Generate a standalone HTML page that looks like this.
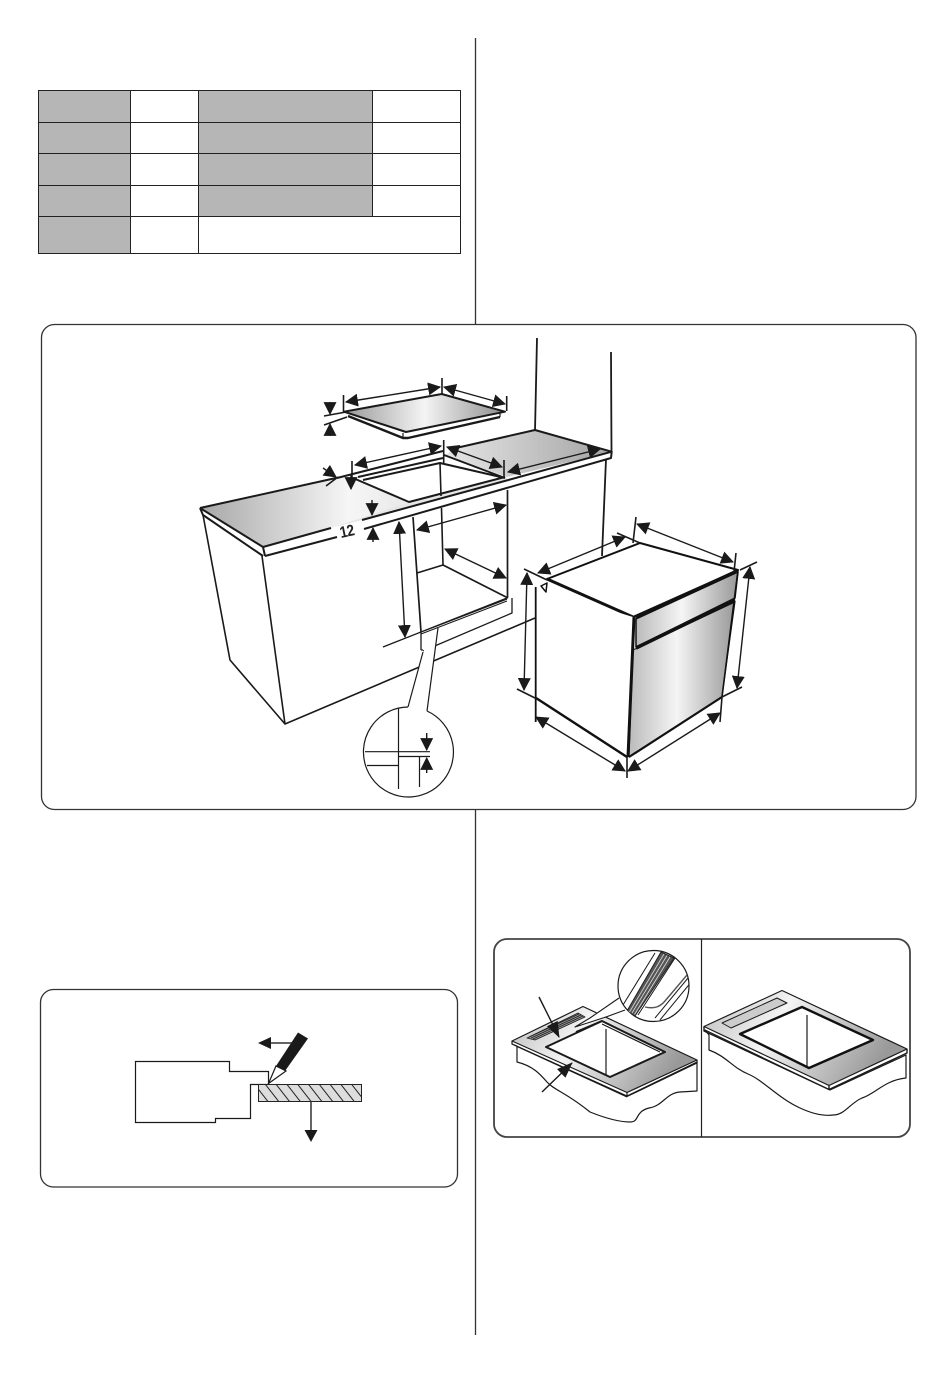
<!DOCTYPE html>
<html><head><meta charset="utf-8"><style>
html,body{margin:0;padding:0;background:#fff;width:950px;height:1374px;overflow:hidden}
svg{display:block}
text{font-family:"Liberation Sans",sans-serif}
</style></head><body>
<svg width="950" height="1374" viewBox="0 0 950 1374" xmlns="http://www.w3.org/2000/svg">
<defs>
<marker id="a" viewBox="0 0 12 12" refX="11" refY="6" markerWidth="13" markerHeight="13" markerUnits="userSpaceOnUse" orient="auto-start-reverse"><path d="M0 0L12 6L0 12z" fill="#1a1a1a"/></marker>
<marker id="b" viewBox="0 0 16 12" refX="15" refY="6" markerWidth="16" markerHeight="14" markerUnits="userSpaceOnUse" orient="auto-start-reverse"><path d="M0 0L16 6L0 12z" fill="#1a1a1a"/></marker>
<linearGradient id="g" x1="0" y1="0" x2="1" y2="0"><stop offset="0" stop-color="#999"/><stop offset=".5" stop-color="#f4f4f4"/><stop offset="1" stop-color="#8e8e8e"/></linearGradient>
<linearGradient id="cl" gradientUnits="userSpaceOnUse" x1="205" y1="0" x2="410" y2="0"><stop offset="0" stop-color="#aaa"/><stop offset=".7" stop-color="#f6f6f6"/><stop offset="1" stop-color="#e8e8e8"/></linearGradient>
<linearGradient id="cr" gradientUnits="userSpaceOnUse" x1="450" y1="0" x2="610" y2="0"><stop offset="0" stop-color="#e4e4e4"/><stop offset="1" stop-color="#a4a4a4"/></linearGradient>
<linearGradient id="g2" x1="0" y1="0" x2="1" y2="0"><stop offset="0" stop-color="#bbb"/><stop offset=".45" stop-color="#f5f5f5"/><stop offset="1" stop-color="#999"/></linearGradient>
<linearGradient id="g3" x1="0" y1="0" x2="1" y2="0.3"><stop offset="0" stop-color="#bbb"/><stop offset=".42" stop-color="#f4f4f4"/><stop offset="1" stop-color="#999"/></linearGradient>
<pattern id="h" width="8.500" height="9" patternUnits="userSpaceOnUse" patternTransform="rotate(-38)"><rect width="9" height="9" fill="#ddd"/><line x1="0" y1="0" x2="0" y2="9" stroke="#222" stroke-width="2"/></pattern>
<clipPath id="mag"><circle cx="653.500" cy="986" r="35.500"/></clipPath>
</defs>
<rect width="950" height="1374" fill="#fff"/>

<!-- centre rule -->
<path d="M475.500 38V324M475.500 809V1335" stroke="#333" stroke-width="1.300" fill="none"/>

<!-- table -->
<g fill="#b6b6b6">
<rect x="38" y="90" width="92" height="163"/>
<rect x="198" y="90" width="174" height="126"/>
</g>
<path d="M38.500 90.500H460.500V253.500H38.500ZM38 122.500H460M38 153.500H460M38 185.500H460M38 216.500H460M130.500 90V253M198.500 90V253M372.500 90V216" fill="none" stroke="#222" stroke-width="1"/>

<!-- panels -->
<rect x="41.500" y="324.500" width="874.500" height="485" rx="13" fill="#fff" stroke="#333" stroke-width="1.300"/>
<rect x="40.500" y="989.500" width="417" height="197.500" rx="13" fill="#fff" stroke="#333" stroke-width="1.300"/>
<rect x="494" y="939" width="416" height="198" rx="13" fill="#fff" stroke="#444" stroke-width="1.800"/>
<path d="M701.500 939V1137" stroke="#222" stroke-width="1.200"/>

<!-- ===== main diagram ===== -->
<g fill="none" stroke="#1a1a1a" stroke-width="1.600" stroke-linejoin="round">
<!-- walls -->
<path d="M537 338L535 431M611 352L611.500 451M606 459L602 556" stroke-width="1.800"/>
<!-- worktop -->
<path d="M200 508L337 478L353 478L409 502L331 528L263 547Z" fill="url(#cl)" stroke="none"/>
<path d="M409 502L505 477L510 481L362 520L331 528Z" fill="#e6e6e6" stroke="none"/>
<path d="M456 448L535 430L611.700 451.700L507 477L445 455Z" fill="url(#cr)" stroke="none"/>
<!-- worktop lines -->
<path d="M200 508L336 478M337 478L443 451M456 448L535 430L611.700 451.700M353 478L409 502L505 477M362 520L611.700 451.700L611 458L364 529M200 508L203 515L263 556M200 508L263 547L265 556M263 547L331 528M265 556L337 537M363 480L440 463L505 478M358 477L443 458M444 455L505 478" stroke-width="2"/>
<path d="M440 463L441 496M441.500 508L443 565M203 515L230 660L285 724L535 618M262 556L285 724" stroke-width="1.600"/>
<!-- oven opening -->
<path d="M413 517L421 632M443 565L417 573M443 565L508 598M507.500 490V598" stroke-width="1.700"/>
<path d="M383 647L507 598M421 632L507 599M421 632V650M423 651L512 613V598M421 650H423" stroke-width="1.300"/>
<path d="M421 634L507 601" stroke-width="1"/>
<!-- callout -->
<path d="M424 650L408 707L427 711L438 628Z" fill="#fff" stroke="none"/>
<path d="M423 652L408 707M438 628L427 711" stroke-width="1.200"/>
<path d="M408 707A45 45 0 1 0 427 711" stroke-width="1.200" fill="#fff"/>
<path d="M398.500 708V789M365 751.700H430M367 765.500H398M399 756.500H430M419.500 757V787" stroke-width="1.200"/>
<!-- hob -->
<path d="M348 416L403 438H408L500 417L505 412L344 412Z" fill="#fff" stroke="none"/>
<path d="M348 416L403 438H408L500 417" stroke-width="2.400"/>
<path d="M344 411.700L441.700 394L505 411.700L406 432Z" fill="url(#g)" stroke="#1a1a1a" stroke-width="2"/>
<path d="M403 433V438M500 413V417" stroke-width="1.200"/>
<!-- oven -->
<path d="M547 579L640 543L738 570L633 617Z" fill="#fff" stroke="#111" stroke-width="2"/>
<path d="M547 579L633 617" stroke="#111" stroke-width="3"/>
<path d="M536 587V698L627 757L633 617" fill="#fff" stroke="none"/>
<path d="M535.700 587V722" stroke="#111" stroke-width="1.800"/>
<path d="M536 698L627 757" stroke="#111" stroke-width="2.500"/>
<path d="M636 619L738 572L735 598L636 647Z" fill="url(#g2)" stroke="#111" stroke-width="1.500"/>
<path d="M633 650L735 602L722 697L629 757Z" fill="url(#g2)" stroke="#111" stroke-width="1"/>
<path d="M636 648L735 600" stroke="#111" stroke-width="3.500"/>
<path d="M636 618L738 570" stroke="#111" stroke-width="2.500"/>
<path d="M634 617L628 757" stroke="#111" stroke-width="3"/>
<path d="M629 757L722 697" stroke="#111" stroke-width="2.200"/>
<path d="M738 570L722 697" stroke="#111" stroke-width="1.600"/>
<path d="M541 586L547 583L546 592Z" stroke="#111" stroke-width="1.500" fill="#fff"/>
<!-- ticks -->
<path d="M343.500 395V412M442 378V394M506.700 396V411M324 416L346 412M324 425L347 417M352 461V480M443.700 440V463M504 460V477M326 486L338 477M524 569L547 580M617 533L640 543M636 517L633 543M736 553L734 572M740 570L757 562M722 697L742 687M517 689L537 699M722 697L720 722M627 757V778" stroke-width="1.600"/>
</g>

<!-- dimension arrows -->
<g fill="none" stroke="#1a1a1a" stroke-width="1.400">
<path d="M346 402L440 387" marker-start="url(#a)" marker-end="url(#a)"/>
<path d="M444 387L505 404" marker-start="url(#a)" marker-end="url(#a)"/>
<path d="M355 465L441 446" marker-start="url(#a)" marker-end="url(#a)"/>
<path d="M447 447L502 467" marker-start="url(#a)" marker-end="url(#a)"/>
<path d="M508 472L600 449" marker-start="url(#a)" marker-end="url(#a)"/>
<path d="M399 522L405 637" marker-start="url(#a)" marker-end="url(#a)"/>
<path d="M417 530L506 505" marker-start="url(#a)" marker-end="url(#a)"/>
<path d="M445 549L506 578" marker-start="url(#a)" marker-end="url(#a)"/>
<path d="M538 573L625 537" marker-start="url(#a)" marker-end="url(#a)"/>
<path d="M637 524L733 562" marker-start="url(#a)" marker-end="url(#a)"/>
<path d="M750 567L737 688" marker-start="url(#a)" marker-end="url(#a)"/>
<path d="M527 573L524 690" marker-start="url(#a)" marker-end="url(#a)"/>
<path d="M536 717L625 771" marker-start="url(#a)" marker-end="url(#a)"/>
<path d="M628 771L720 713" marker-start="url(#a)" marker-end="url(#a)"/>
<path d="M330 402V414" marker-end="url(#a)"/>
<path d="M330 436V424" marker-end="url(#a)"/>
<path d="M372 500V515" marker-end="url(#a)"/>
<path d="M373 542V528" marker-end="url(#a)"/>
<path d="M323 468L336 477" marker-end="url(#a)"/>
<path d="M351 474V489" marker-end="url(#a)"/>
<path d="M426.700 733V750" marker-end="url(#a)"/>
<path d="M426.700 773V758" marker-end="url(#a)"/>
</g>
<text x="0" y="0" transform="translate(341 538) rotate(-12) scale(.85 1)" font-size="16" font-weight="bold" letter-spacing="-.5" fill="#222">12</text>

<!-- ===== pencil diagram ===== -->
<path d="M268.500 1084V1071.500H229.500V1061.500H135.500V1122.500H215.500V1118.500H250.500V1084.500H268" fill="none" stroke="#1a1a1a" stroke-width="1.200"/>
<rect x="258.500" y="1084.500" width="103" height="17" fill="url(#h)" stroke="#222" stroke-width="1"/>
<path d="M311 1101V1130" stroke="#333" stroke-width="1.500"/>
<path d="M304.500 1130H317.500L311 1142Z" fill="#1a1a1a"/>
<path d="M270 1043H292" stroke="#333" stroke-width="1.500"/>
<path d="M258 1043L271 1037V1049Z" fill="#1a1a1a"/>
<path d="M298 1032.500L308 1038.500L285 1071L276 1066Z" fill="#1a1a1a"/>
<path d="M268.500 1083.500L276 1066L286 1071Z" fill="#fff" stroke="#1a1a1a" stroke-width="1.200"/>

<!-- ===== left seal diagram ===== -->
<g stroke="#1a1a1a" fill="none" stroke-width="1.200" stroke-linejoin="round">
<path d="M517 1046V1062C533 1066 540 1074 547 1082S567 1093 590 1112C605 1118 618 1122 630 1122C640 1122 634 1112 649 1108C663 1106 666 1093 680 1092L697 1091V1062L627 1096L512 1044Z" fill="#fff"/>
<path d="M512 1041L583 1006.500L697 1060L627 1092.500Z" fill="url(#g3)"/>
<path d="M512 1041V1044L627 1096.500V1092.500M627 1096.500L697 1063V1060"/>
<path d="M516 1046L627 1097" stroke-width="1"/>
<path d="M546 1047L602 1021L665 1052L610 1077Z" fill="#fff" stroke-width="2"/>
<path d="M606 1029V1075M602 1024L660 1052" stroke-width="1.200"/>
<path d="M527 1038L578 1013L585 1017L535 1040Z" fill="#999" stroke-width=".8"/>
<path d="M529 1037L579 1014M531 1038L581 1015M533 1039L583 1016" stroke="#222" stroke-width=".9"/>
<path d="M619 998L575 1027L625 1010L640 1020L630 960Z" fill="#fff" stroke="none"/>
<path d="M576 1032L602 1021" stroke-width="2"/>
<path d="M619 998L590 1018L575 1027L606 1017L625 1010" stroke-width="1.100"/>
<circle cx="653.500" cy="986" r="35.500" fill="#fff" stroke-width="1.200"/>
<g clip-path="url(#mag)">
<path d="M623 1005L655 953M638 1015L675 958" stroke-width="1"/>
<path d="M627 1011L661 952L674 958L635 1016Z" fill="#555" stroke="#222" stroke-width="1"/>
<path d="M629.500 1012L664 954M632 1013L667 955.500M634.500 1014.500L670 957" stroke="#ddd" stroke-width=".8"/>
<path d="M645 1007C654 1009 660 1007 665 1001L687 975" stroke="#555" stroke-width="1.400"/>
<path d="M655 1018L688 978M660 1020L692 981" stroke-width="1"/>
</g>
<path d="M539 997L559 1037" stroke-width="1.400" marker-end="url(#b)"/>
<path d="M542 1092L572 1063" stroke-width="1.400" marker-end="url(#b)"/>
</g>

<!-- ===== right seal diagram ===== -->
<g stroke="#1a1a1a" fill="none" stroke-width="1.200" stroke-linejoin="round">
<path d="M709 1035V1050C726 1056 733 1068 748 1074S778 1098 800 1108C815 1115 825 1116 833 1115C845 1115 850 1103 862 1098C875 1094 885 1080 906 1078V1055L830 1090L705 1030Z" fill="#fff"/>
<path d="M704 1026.500L782 990.500L907 1049L829 1085.500Z" fill="url(#g3)"/>
<path d="M704 1026.500V1031L829 1089.500V1085.500M829 1089.500L907 1053V1049" stroke-width="1.400"/>
<path d="M740 1034L802 1007L873 1040L809 1068Z" fill="#fff" stroke="#111" stroke-width="2.400"/>
<path d="M807 1015V1067"/>
<path d="M722 1023L777 998L787 1003L731 1028Z" fill="#ccc" stroke-width="1"/>
</g>
</svg>
</body></html>
